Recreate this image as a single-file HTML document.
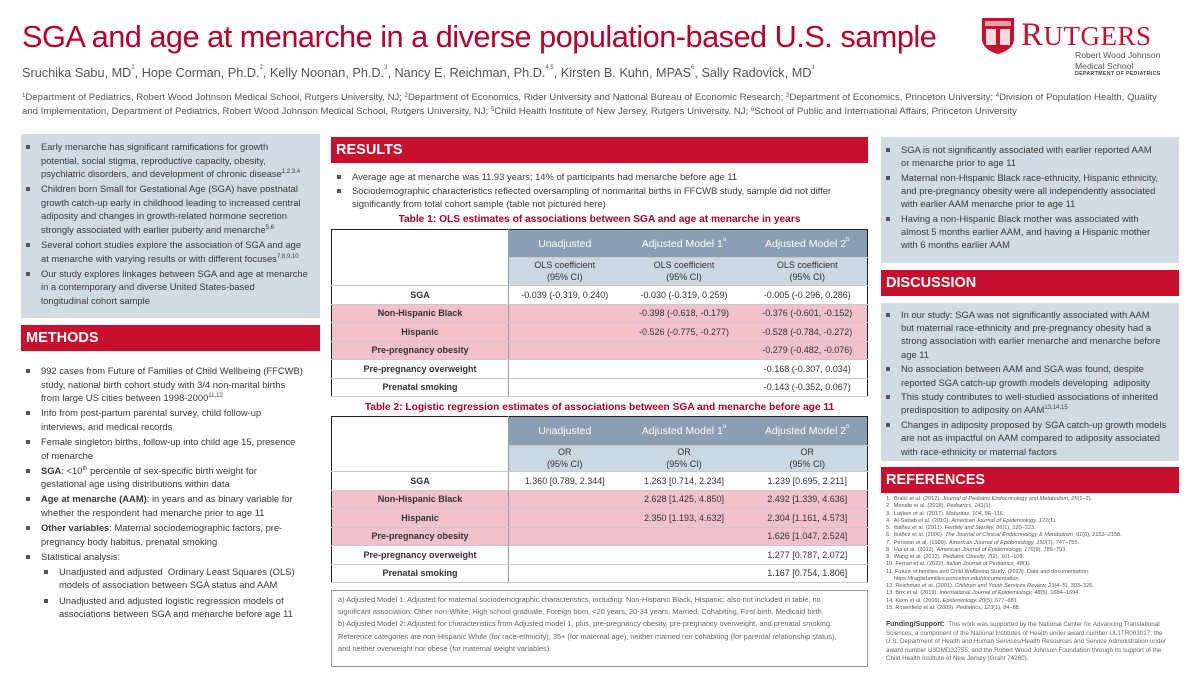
<!DOCTYPE html>
<html><head><meta charset="utf-8">
<style>
*{margin:0;padding:0;box-sizing:border-box}
body{width:1200px;height:675px;background:#fff;position:relative;overflow:hidden;font-family:"Liberation Sans",sans-serif;color:#444}
.a{position:absolute}
.bar{position:absolute;background:#c8102e;color:#fff;font-weight:bold;font-size:14.5px;padding-left:5px;line-height:26px}
.box{position:absolute;background:#d0dbe4}
ul{list-style:none}
li{position:relative;padding-left:17px;font-size:9.4px;line-height:13.6px;white-space:nowrap;color:#3a3a3a;margin-bottom:1.5px}
li:before{content:"";position:absolute;left:2px;top:5px;width:4px;height:4px;background:#555}
li.s{padding-left:35px}
li.s:before{left:20px}
sup{font-size:6px;vertical-align:top;position:relative;top:-1px}
table{position:absolute;border-collapse:collapse;border:1.5px solid #222;font-size:9px;color:#333}
td{text-align:center;border-bottom:1px solid #c9c9c9;padding:0;white-space:nowrap}
td.l{font-weight:bold;border-right:1px solid #999}
tr.h td.c{background:#8a9fb3;color:#fff;font-size:10.5px}
tr.sh td.c{background:#cbd7e1;line-height:11.5px}
tr.p td{background:#f2c1cc}
.tt{position:absolute;color:#b0002a;font-weight:bold;font-size:10.2px;text-align:center;width:537px;left:331px}
.ref{font-size:5.6px;line-height:7.25px;color:#555;white-space:nowrap}
.r ul li{line-height:13.2px}
</style></head><body>

<div class="a" style="left:22px;top:19px;font-size:30.7px;color:#b5002c;letter-spacing:-0.5px;white-space:nowrap">SGA and age at menarche in a diverse population-based U.S. sample</div>
<div class="a" style="left:22px;top:66px;font-size:12.7px;color:#555;white-space:nowrap">Sruchika Sabu, MD<sup>1</sup>, Hope Corman, Ph.D.<sup>2</sup>, Kelly Noonan, Ph.D.<sup>3</sup>, Nancy E. Reichman, Ph.D.<sup>4,5</sup>, Kirsten B. Kuhn, MPAS<sup>6</sup>, Sally Radovick, MD<sup>1</sup></div>
<div class="a" style="left:22px;top:91px;font-size:9.6px;line-height:13.5px;color:#555;white-space:nowrap"><sup>1</sup>Department of Pediatrics, Robert Wood Johnson Medical School, Rutgers University, NJ; <sup>2</sup>Department of Economics, Rider University and National Bureau of Economic Research; <sup>3</sup>Department of Economics, Princeton University; <sup>4</sup>Division of Population Health, Quality<br>and Implementation, Department of Pediatrics, Robert Wood Johnson Medical School, Rutgers University, NJ; <sup>5</sup>Child Health Institute of New Jersey, Rutgers University, NJ; <sup>6</sup>School of Public and International Affairs, Princeton University</div>

<!-- logo -->
<svg class="a" style="left:981px;top:17px" width="34" height="38" viewBox="0 0 34 38"><path d="M1 1H33V22C33 30 25 35 17 37 9 35 1 30 1 22Z" fill="#c8102e"/><rect x="5" y="12" width="10" height="16" fill="#fff" opacity=".85"/><rect x="19" y="12" width="10" height="16" fill="#fff" opacity=".85"/><path d="M4 4H30V9H4Z" fill="#fff" opacity=".6"/></svg>
<div class="a" style="left:1021px;top:17px;font-family:'Liberation Serif',serif;font-size:33px;color:#c8102e;letter-spacing:0.5px">R<span style="font-size:27px">UTGERS</span></div>
<div class="a" style="left:1075px;top:50px;font-size:8.6px;line-height:11px;color:#555">Robert Wood Johnson<br>Medical School</div>
<div class="a" style="left:1075px;top:71px;font-size:5.3px;font-weight:bold;color:#444;letter-spacing:0.3px">DEPARTMENT OF PEDIATRICS</div>

<!-- left column -->
<div class="box" style="left:21px;top:134px;width:299px;height:184px"></div>
<ul class="a" style="left:24px;top:140px">
<li>Early menarche has significant ramifications for growth<br>potential, social stigma, reproductive capacity, obesity,<br>psychiatric disorders, and development of chronic disease<sup>1,2,3,4</sup></li>
<li>Children born Small for Gestational Age (SGA) have postnatal<br>growth catch-up early in childhood leading to increased central<br>adiposity and changes in growth-related hormone secretion<br>strongly associated with earlier puberty and menarche<sup>5,6</sup></li>
<li>Several cohort studies explore the association of SGA and age<br>at menarche with varying results or with different focuses<sup>7,8,9,10</sup></li>
<li>Our study explores linkages between SGA and age at menarche<br>in a contemporary and diverse United States-based<br>longitudinal cohort sample</li>
</ul>
<div class="bar" style="left:21px;top:325px;width:299px;height:26px">METHODS</div>
<ul class="a" style="left:24px;top:364px">
<li>992 cases from Future of Families of Child Wellbeing (FFCWB)<br>study, national birth cohort study with 3/4 non-marital births<br>from large US cities between 1998-2000<sup>11,12</sup></li>
<li>Info from post-partum parental survey, child follow-up<br>interviews, and medical records</li>
<li>Female singleton births, follow-up into child age 15, presence<br>of menarche</li>
<li><b>SGA</b>: &lt;10<sup>th</sup> percentile of sex-specific birth weight for<br>gestational age using distributions within data</li>
<li><b>Age at menarche (AAM)</b>: in years and as binary variable for<br>whether the respondent had menarche prior to age 11</li>
<li><b>Other variables</b>: Maternal sociodemographic factors, pre-<br>pregnancy body habitus, prenatal smoking</li>
<li>Statistical analysis:</li>
<li class="s">Unadjusted and adjusted &nbsp;Ordinary Least Squares (OLS)<br>models of association between SGA status and AAM</li>
<li class="s">Unadjusted and adjusted logistic regression models of<br>associations between SGA and menarche before age 11</li>
</ul>

<!-- middle -->
<div class="bar" style="left:331px;top:137px;width:537px;height:26px">RESULTS</div>
<ul class="a" style="left:335px;top:170px">
<li style="margin-bottom:0">Average age at menarche was 11.93 years; 14% of participants had menarche before age 11</li>
<li>Sociodemographic characteristics reflected oversampling of nonmarital births in FFCWB study, sample did not differ<br>significantly from total cohort sample (table not pictured here)</li>
</ul>
<div class="tt" style="top:214px">Table 1: OLS estimates of associations between SGA and age at menarche in years</div>
<table style="left:331px;top:229px;width:537px">
<colgroup><col style="width:177px"><col style="width:112px"><col style="width:127px"><col></colgroup>
<tr class="h" style="height:28px"><td class="l" style="border-bottom:none"></td><td class="c">Unadjusted</td><td class="c">Adjusted Model 1<sup>a</sup></td><td class="c">Adjusted Model 2<sup>b</sup></td></tr>
<tr class="sh" style="height:28px"><td class="l"></td><td class="c">OLS coefficient<br>(95% CI)</td><td class="c">OLS coefficient<br>(95% CI)</td><td class="c">OLS coefficient<br>(95% CI)</td></tr>
<tr style="height:18.5px"><td class="l">SGA</td><td>-0.039 (-0.319, 0.240)</td><td>-0.030 (-0.319, 0.259)</td><td>-0.005 (-0.296, 0.286)</td></tr>
<tr class="p" style="height:18.5px"><td class="l">Non-Hispanic Black</td><td></td><td>-0.398 (-0.618, -0.179)</td><td>-0.376 (-0.601, -0.152)</td></tr>
<tr class="p" style="height:18.5px"><td class="l">Hispanic</td><td></td><td>-0.526 (-0.775, -0.277)</td><td>-0.528 (-0.784, -0.272)</td></tr>
<tr class="p" style="height:18.5px"><td class="l">Pre-pregnancy obesity</td><td></td><td></td><td>-0.279 (-0.482, -0.076)</td></tr>
<tr style="height:18.5px"><td class="l">Pre-pregnancy overweight</td><td></td><td></td><td>-0.168 (-0.307, 0.034)</td></tr>
<tr style="height:18.5px"><td class="l">Prenatal smoking</td><td></td><td></td><td>-0.143 (-0.352, 0.067)</td></tr>
</table>
<div class="tt" style="top:402px">Table 2: Logistic regression estimates of associations between SGA and menarche before age 11</div>
<table style="left:331px;top:416px;width:537px">
<colgroup><col style="width:177px"><col style="width:112px"><col style="width:127px"><col></colgroup>
<tr class="h" style="height:29px"><td class="l" style="border-bottom:none"></td><td class="c">Unadjusted</td><td class="c">Adjusted Model 1<sup>a</sup></td><td class="c">Adjusted Model 2<sup>b</sup></td></tr>
<tr class="sh" style="height:26px"><td class="l"></td><td class="c">OR<br>(95% CI)</td><td class="c">OR<br>(95% CI)</td><td class="c">OR<br>(95% CI)</td></tr>
<tr style="height:18.5px"><td class="l">SGA</td><td>1.360 [0.789, 2.344]</td><td>1.263 [0.714, 2.234]</td><td>1.239 [0.695, 2.211]</td></tr>
<tr class="p" style="height:18.5px"><td class="l">Non-Hispanic Black</td><td></td><td>2.628 [1.425, 4.850]</td><td>2.492 [1.339, 4.636]</td></tr>
<tr class="p" style="height:18.5px"><td class="l">Hispanic</td><td></td><td>2.350 [1.193, 4.632]</td><td>2.304 [1.161, 4.573]</td></tr>
<tr class="p" style="height:18.5px"><td class="l">Pre-pregnancy obesity</td><td></td><td></td><td>1.626 [1.047, 2.524]</td></tr>
<tr style="height:18.5px"><td class="l">Pre-pregnancy overweight</td><td></td><td></td><td>1.277 [0.787, 2.072]</td></tr>
<tr style="height:18.5px"><td class="l">Prenatal smoking</td><td></td><td></td><td>1.167 [0.754, 1.806]</td></tr>
</table>
<div class="a" style="left:331px;top:590px;width:537px;height:77px;border:1px solid #999;padding:3px 6px;font-size:7.4px;line-height:12.2px;color:#666;white-space:nowrap">
a) Adjusted Model 1: Adjusted for maternal sociodemographic characteristics, including: Non-Hispanic Black, Hispanic; also not included in table, no<br>significant association: Other non-White, High school graduate, Foreign born, &lt;20 years, 20-34 years, Married, Cohabiting, First birth, Medicaid birth<br>b) Adjusted Model 2: Adjusted for characteristics from Adjusted model 1, plus, pre-pregnancy obesity, pre-pregnancy overweight, and prenatal smoking.<br>Reference categories are non-Hispanic White (for race-ethnicity), 35+ (for maternal age), neither married nor cohabiting (for parental relationship status),<br>and neither overweight nor obese (for maternal weight variables).</div>

<!-- right column -->
<div class="box" style="left:881px;top:137px;width:298px;height:126px"></div>
<div class="r">
<ul class="a" style="left:884px;top:143px">
<li>SGA is not significantly associated with earlier reported AAM<br>or menarche prior to age 11</li>
<li>Maternal non-Hispanic Black race-ethnicity, Hispanic ethnicity,<br>and pre-pregnancy obesity were all independently associated<br>with earlier AAM menarche prior to age 11</li>
<li>Having a non-Hispanic Black mother was associated with<br>almost 5 months earlier AAM, and having a Hispanic mother<br>with 6 months earlier AAM</li>
</ul>
<div class="bar" style="left:881px;top:270px;width:298px;height:26px">DISCUSSION</div>
<div class="box" style="left:881px;top:303px;width:298px;height:158px"></div>
<ul class="a" style="left:884px;top:308px">
<li>In our study: SGA was not significantly associated with AAM<br>but maternal race-ethnicity and pre-pregnancy obesity had a<br>strong association with earlier menarche and menarche before<br>age 11</li>
<li>No association between AAM and SGA was found, despite<br>reported SGA catch-up growth models developing &nbsp;adiposity</li>
<li>This study contributes to well-studied associations of inherited<br>predisposition to adiposity on AAM<sup>13,14,15</sup></li>
<li>Changes in adiposity proposed by SGA catch-up growth models<br>are not as impactful on AAM compared to adiposity associated<br>with race-ethnicity or maternal factors</li>
</ul>
</div>
<div class="bar" style="left:881px;top:467px;width:298px;height:26px">REFERENCES</div>
<div class="a ref" style="left:886px;top:496px">
1. &nbsp;Bralić et al. (2012). <i>Journal of Pediatric Endocrinology and Metabolism, 25</i>(1–2).<br>
2. &nbsp;Mendle et al. (2018). <i>Pediatrics, 141</i>(1).<br>
3. &nbsp;Luijken et al. (2017). <i>Maturitas, 104</i>, 96–116.<br>
4. &nbsp;Al-Sahab et al. (2010). <i>American Journal of Epidemiology, 171</i>(1).<br>
5. &nbsp;Ibáñez et al. (2011). <i>Fertility and Sterility, 96</i>(1), 220–223.<br>
6. &nbsp;Ibáñez et al. (2006). <i>The Journal of Clinical Endocrinology &amp; Metabolism, 91</i>(6), 2153–2158.<br>
7. &nbsp;Persson et al. (1999). <i>American Journal of Epidemiology, 150</i>(7), 747–755.<br>
8. &nbsp;Hui et al. (2012). <i>American Journal of Epidemiology, 176</i>(9), 785–793.<br>
9. &nbsp;Wang et al. (2012). <i>Pediatric Obesity, 7</i>(2), 101–109.<br>
10. Ferrari et al. (2022). <i>Italian Journal of Pediatrics, 48</i>(1).<br>
11. Future of families and Child Wellbeing Study. (2023). Data and documentation.<br>
&nbsp;&nbsp;&nbsp;&nbsp;&nbsp;https://fragilefamilies.princeton.edu/documentation<br>
12. Reichman et al. (2001). <i>Children and Youth Services Review, 23</i>(4–5), 303–326.<br>
13. Brix et al. (2019). <i>International Journal of Epidemiology, 48</i>(5), 1684–1694.<br>
14. Keim et al. (2009). <i>Epidemiology, 20</i>(5), 677–681.<br>
15. Rosenfield et al. (2009). <i>Pediatrics, 123</i>(1), 84–88.</div>
<div class="a" style="left:886px;top:621px;font-size:6.3px;line-height:8.6px;color:#666;white-space:nowrap"><b style="color:#444;font-size:7px">Funding/Support:</b> &nbsp;This work was supported by the National Center for Advancing Translational<br>Sciences, a component of the National Institutes of Health under award number UL1TR003017; the<br>U.S. Department of Health and Human Services/Health Resources and Service Administration under<br>award number U3DMD32755; and the Robert Wood Johnson Foundation through its support of the<br>Child Health Institute of New Jersey (Grant 74260).</div>

</body></html>
